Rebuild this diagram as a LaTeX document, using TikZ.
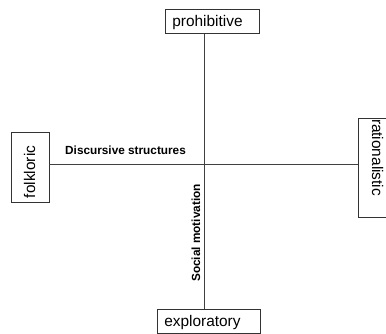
\documentclass[tikz,border=0pt]{standalone}
\usepackage{fontspec}
\setmainfont{Liberation Sans}

\begin{document}
\begin{tikzpicture}[x=1pt, y=-1pt,
        pole/.style={draw=black!80, line width=0.8pt, inner xsep=7pt, inner ysep=0pt,
            minimum height=24pt, align=left, text height=13pt, text depth=3pt,
            font=\fontsize{15.4}{18}\selectfont},
        axis/.style={draw=black!75, line width=0.8pt},
        axislabel/.style={inner sep=0pt, font=\bfseries\fontsize{11.8}{14}\selectfont}]
        \useasboundingbox (0,0) rectangle (386,333);

        \coordinate (O) at (204,164);

        \node[pole, text width=80pt, anchor=north west] (prohibitive) at (165,9) {prohibitive};
        \node[pole, text width=89pt, anchor=north west] (exploratory) at (157,309) {exploratory};
        \node[pole, rotate=90, inner xsep=4pt, text width=62pt, minimum height=38pt] (folkloric) at (30,167) {folkloric};
        \node[pole, rotate=-90, inner xsep=1pt, text width=97pt, minimum height=38pt] (rationalistic) at (377,167.5) {rationalistic};

        \draw[axis] (prohibitive.south -| O) -- (exploratory.north -| O);
        \draw[axis] (folkloric.south |- O) -- (rationalistic.south |- O);

        \node[axislabel, anchor=base west] (discursive) at (65,154) {Discursive structures};
        \node[axislabel, rotate=90, anchor=base west] (social) at (200,282) {Social motivation};

    \end{tikzpicture}
\end{document}
